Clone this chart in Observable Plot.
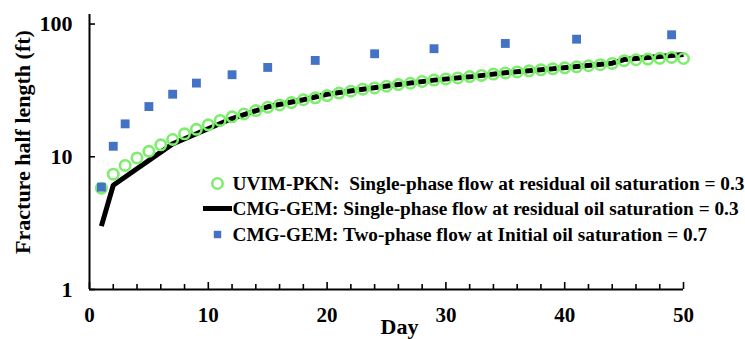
<!DOCTYPE html>
<html>
<head>
<meta charset="utf-8">
<script src="https://cdn.jsdelivr.net/npm/d3@7"></script>
<script src="https://cdn.jsdelivr.net/npm/@observablehq/plot@0.6"></script>
<style>
  html, body { margin: 0; padding: 0; background: #fff; }
  #chart svg { display: block; }
</style>
</head>
<body>
<div id="chart"></div>
<script>
// UVIM-PKN: single-phase flow at residual oil saturation = 0.3 (green circles, daily)
const uvimDays = d3.range(1, 51);
const uvimValues = [5.8, 7.4, 8.6, 9.8, 11.0, 12.3, 13.5, 14.9, 16.1, 17.4,
  18.8, 20.0, 21.0, 22.3, 23.6, 24.6, 25.6, 26.9, 27.8, 28.9,
  30.2, 31.2, 32.3, 33.0, 34.0, 35.0, 35.8, 36.9, 37.8, 38.6,
  39.3, 40.2, 41.0, 42.0, 42.8, 43.6, 44.4, 45.2, 46.0, 46.8,
  47.6, 48.5, 49.4, 50.5, 53.0, 53.8, 54.5, 55.2, 56.0, 55.0];

// CMG-GEM: single-phase flow at residual oil saturation = 0.3 (black line)
const gemSingleDays = [1, 2, 7, 9, 12, 15, 18, 20, 23, 26, 29, 32, 35, 39, 44, 45, 50];
const gemSingleValues = [3.0, 6.1, 12.5, 14.9, 19.4, 23.8, 26.9, 29.6, 32.3, 35.0, 37.8, 40.0, 43.0, 46.0, 50.7, 54.0, 59.0];

// CMG-GEM: two-phase flow at initial oil saturation = 0.7 (blue squares)
const gemTwoDays = [1, 2, 3, 5, 7, 9, 12, 15, 19, 24, 29, 35, 41, 49];
const gemTwoValues = [5.9, 12.0, 17.7, 23.9, 29.6, 35.9, 41.5, 47.1, 53.2, 59.7, 65.2, 71.4, 76.9, 83.0];

const xTicksMajor = [0, 10, 20, 30, 40, 50];
const xTicksMinor = [2, 4, 6, 8, 12, 14, 16, 18, 22, 24, 26, 28, 32, 34, 36, 38, 42, 44, 46, 48];
const yTicks = [1, 10, 100];
const yTickLabels = ["1", "10", "100"];

const legendLabels = [
  "UVIM-PKN:\u00a0 Single-phase flow at residual oil saturation = 0.3",
  "CMG-GEM: Single-phase flow at residual oil saturation = 0.3",
  "CMG-GEM: Two-phase flow at Initial oil saturation = 0.7"
];

const uvim = uvimDays.map((d, i) => ({day: d, value: uvimValues[i]}));
const gemSingle = gemSingleDays.map((d, i) => ({day: d, value: gemSingleValues[i]}));
const gemTwo = gemTwoDays.map((d, i) => ({day: d, value: gemTwoValues[i]}));

const GREEN = "#7cee6c";
const BLUE = "#4472c4";
const FONT = "Liberation Serif, Times New Roman, serif";

const lineSymbol = {
  draw(ctx) { ctx.moveTo(-14.5, 0); ctx.lineTo(14.5, 0); }
};

const legendRowDy = [169, 194, 220];

const chart = Plot.plot({
  width: 745,
  height: 339,
  marginLeft: 89,
  marginRight: 62,
  marginTop: 14,
  marginBottom: 50,
  style: {fontFamily: FONT, fontWeight: "bold", color: "#000", background: "#fff", overflow: "visible"},
  x: {type: "linear", domain: [0, 50]},
  y: {type: "log", domain: [1, 118]},
  marks: [
    // axis lines
    Plot.ruleX([0], {stroke: "#000", strokeWidth: 2}),
    Plot.ruleY([1], {stroke: "#000", strokeWidth: 2}),
    // x ticks (inward) and labels
    Plot.axisX({ticks: xTicksMinor, tickSize: 5, dy: -5, text: null, label: null, stroke: "#000", strokeWidth: 1.6}),
    Plot.axisX({ticks: xTicksMajor, tickSize: 7, dy: -7, text: null, label: null, stroke: "#000", strokeWidth: 1.6}),
    Plot.axisX({ticks: xTicksMajor, tickSize: 0, tickPadding: 18, fontSize: 21, fontWeight: "bold", label: null, tickFormat: d3.format("d")}),
    // y ticks (inward) and labels
    Plot.axisY({ticks: yTicks, tickSize: 6, dx: 6, text: null, label: null, stroke: "#000", strokeWidth: 1.6}),
    Plot.axisY({ticks: yTicks, tickSize: 0, tickPadding: 17, fontSize: 22, fontWeight: "bold", label: null,
      tickFormat: (d) => yTickLabels[yTicks.indexOf(d)]}),
    // axis titles
    Plot.text(["Fracture half length (ft)"], {frameAnchor: "left", textAnchor: "middle", lineAnchor: "middle", rotate: -90, dx: -67, dy: -10, fontSize: 22, fontWeight: "bold", fill: "#000"}),
    Plot.text(["Day"], {frameAnchor: "bottom", textAnchor: "middle", lineAnchor: "middle", dx: 13, dy: 37, fontSize: 22, fontWeight: "bold", fill: "#000"}),
    // data
    Plot.line(gemSingle, {x: "day", y: "value", stroke: "#000", strokeWidth: 5, strokeLinejoin: "miter", strokeLinecap: "butt"}),
    Plot.dot(uvim, {x: "day", y: "value", r: 5.2, stroke: GREEN, strokeWidth: 2.6, fill: "none"}),
    Plot.dot(gemTwo, {x: "day", y: "value", symbol: "square", r: 5, fill: BLUE, stroke: "none"}),
    // legend
    Plot.dot([0], {frameAnchor: "top-left", dx: 128, dy: legendRowDy[0], r: 5.2, stroke: GREEN, strokeWidth: 2.6, fill: "none"}),
    Plot.dot([0], {frameAnchor: "top-left", dx: 128, dy: legendRowDy[1], symbol: lineSymbol, stroke: "#000", strokeWidth: 5, fill: "none"}),
    Plot.dot([0], {frameAnchor: "top-left", dx: 128, dy: legendRowDy[2], symbol: "square", r: 4.2, fill: BLUE, stroke: "none"}),
    ...legendLabels.map((t, i) => Plot.text([t], {frameAnchor: "top-left", dx: 143, dy: legendRowDy[i], textAnchor: "start", lineAnchor: "middle", fontSize: 19.3, fontWeight: "bold", fill: "#000"}))
  ]
});

document.getElementById("chart").appendChild(chart);
</script>
</body>
</html>
